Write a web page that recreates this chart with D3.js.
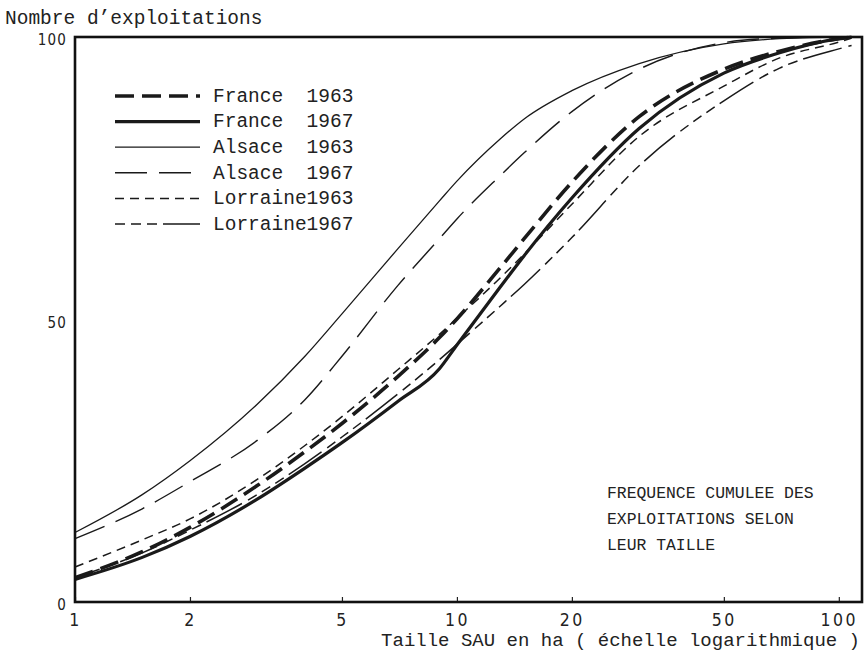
<!DOCTYPE html>
<html>
<head>
<meta charset="utf-8">
<script src="https://cdn.jsdelivr.net/npm/d3@7"></script>
<style>
  body { margin: 0; background: #fff; }
  svg { display: block; }
  .mono { font-family: "Liberation Mono", "DejaVu Sans Mono", monospace; fill: #222; white-space: pre; }
  .tick text { font-family: "DejaVu Sans Condensed", "DejaVu Sans", sans-serif; fill: #222; }
  .curve { fill: none; stroke: #1a1a1a; }
</style>
</head>
<body>
<svg id="chart" width="868" height="665"></svg>
<script>
// surface (ha), log scale
var taille = [1, 1.5, 2, 3, 4, 5, 7, 9, 10, 13, 15, 20, 30, 50, 70, 100, 108];

// cumulated frequency (%)
var france1963   = [4.3, 8.9, 13.2, 20.6, 26.6, 31.6, 39.9, 46.8, 50.1, 59.2, 64.3, 74.3, 85.9, 94.3, 97.5, 99.7, 100];
var france1967   = [4, 7.9, 11.6, 18.2, 23.7, 28.2, 35.5, 41.3, 45.5, 55.8, 61.3, 71.5, 83.8, 93.6, 97.2, 99.7, 100];
var alsace1963   = [12.3, 19, 25, 35, 43.5, 51, 62.5, 71, 74.5, 82, 85.5, 90.5, 95.3, 98.8, 99.7, 100, 100];
var alsace1967   = [11.2, 16.5, 21.3, 28.6, 35.8, 43.5, 56, 64.3, 67.8, 75.5, 79.5, 86.8, 94.3, 99, 99.8, 100, 100];
var lorraine1963 = [6.2, 11, 14.7, 21.7, 27.7, 32.8, 41.1, 47.4, 50.2, 57.4, 61.6, 70.4, 82.4, 91.3, 96.3, 99.1, 99.8];
var lorraine1967 = [4.3, 8.7, 12.7, 19, 24.5, 29.2, 36.8, 42.9, 45.6, 52.4, 56.2, 64.5, 77.2, 88.7, 94.5, 97.9, 98.5];

var seriesNames = ["France  1963", "France  1967", "Alsace  1963", "Alsace  1967", "Lorraine1963", "Lorraine1967"];
var xTicks = [1, 2, 5, 10, 20, 50, 100];
var yTicks = [0, 50, 100];

var svg = d3.select("#chart");
var pLeft = 75, pRight = 862, pTop = 37, pBottom = 602;

var x = d3.scaleLog().domain([1, 115]).range([pLeft, pRight]);
var y = d3.scaleLinear().domain([0, 100]).range([pBottom, pTop]);

// line styles (width, dasharray)
var styles = [
	{ w: 3.6, dash: "19,8" },
	{ w: 3.2, dash: null },
	{ w: 1.3, dash: null },
	{ w: 1.4, dash: "32,12" },
	{ w: 1.5, dash: "9,6" },
	{ w: 1.5, dash: "10,6,10,6,10,6,40,7" }
];

var allSeries = [france1963, france1967, alsace1963, alsace1967, lorraine1963, lorraine1967];

var line = d3.line()
	.x(function(d) { return x(d[0]); })
	.y(function(d) { return y(d[1]); })
	.curve(d3.curveMonotoneX);

svg.append("g")
	.selectAll("path")
	.data(allSeries)
	.enter()
	.append("path")
	.attr("class", "curve")
	.attr("d", function(s) { return line(s.map(function(v, i) { return [taille[i], v]; })); })
	.attr("stroke-width", function(s, i) { return styles[i].w; })
	.attr("stroke-dasharray", function(s, i) { return styles[i].dash; });

// axes
var xAxis = svg.append("g")
	.attr("transform", "translate(0," + pBottom + ")")
	.call(d3.axisBottom(x).tickValues(xTicks).tickFormat(d3.format("d")).tickSizeInner(-5).tickSizeOuter(0).tickPadding(12));
xAxis.select(".domain").remove();
xAxis.selectAll("text").attr("font-size", 17.5).attr("letter-spacing", 2.5);
xAxis.selectAll("line").attr("stroke", "#222").attr("stroke-width", 1.2);

var yAxis = svg.append("g")
	.attr("transform", "translate(" + pLeft + ",0)")
	.call(d3.axisLeft(y).tickValues(yTicks).tickSize(0).tickPadding(8));
yAxis.select(".domain").remove();
yAxis.selectAll("text").attr("font-size", 15).attr("letter-spacing", 1.2).attr("y", 3);

// frame
svg.append("rect")
	.attr("x", pLeft)
	.attr("y", pTop)
	.attr("width", pRight - pLeft)
	.attr("height", pBottom - pTop)
	.attr("fill", "none")
	.attr("stroke", "#111")
	.attr("stroke-width", 2.6);

// legend
var legend = svg.append("g")
	.selectAll("g")
	.data(seriesNames)
	.enter()
	.append("g")
	.attr("transform", function(d, i) { return "translate(115," + (96 + i * 25.6) + ")"; });

legend.append("line")
	.attr("x1", 0)
	.attr("x2", 85)
	.attr("stroke", "#1a1a1a")
	.attr("stroke-width", function(d, i) { return styles[i].w; })
	.attr("stroke-dasharray", function(d, i) { return styles[i].dash; });

legend.append("text")
	.attr("class", "mono")
	.attr("x", 98)
	.attr("dy", "0.3em")
	.attr("font-size", 19.5)
	.text(function(d) { return d; });

// titles
svg.append("text")
	.attr("class", "mono")
	.attr("x", 5)
	.attr("y", 24)
	.attr("font-size", 19.5)
	.text("Nombre d\u2019exploitations");

svg.append("text")
	.attr("class", "mono")
	.attr("x", 860)
	.attr("y", 646)
	.attr("text-anchor", "end")
	.attr("font-size", 19)
	.text("Taille SAU en ha ( \u00e9chelle logarithmique )");

svg.append("g")
	.selectAll("text")
	.data(["FREQUENCE CUMULEE DES", "EXPLOITATIONS SELON", "LEUR TAILLE"])
	.enter()
	.append("text")
	.attr("class", "mono")
	.attr("x", 607)
	.attr("y", function(d, i) { return 498 + i * 26; })
	.attr("font-size", 16.4)
	.text(function(d) { return d; });
</script>
</body>
</html>
